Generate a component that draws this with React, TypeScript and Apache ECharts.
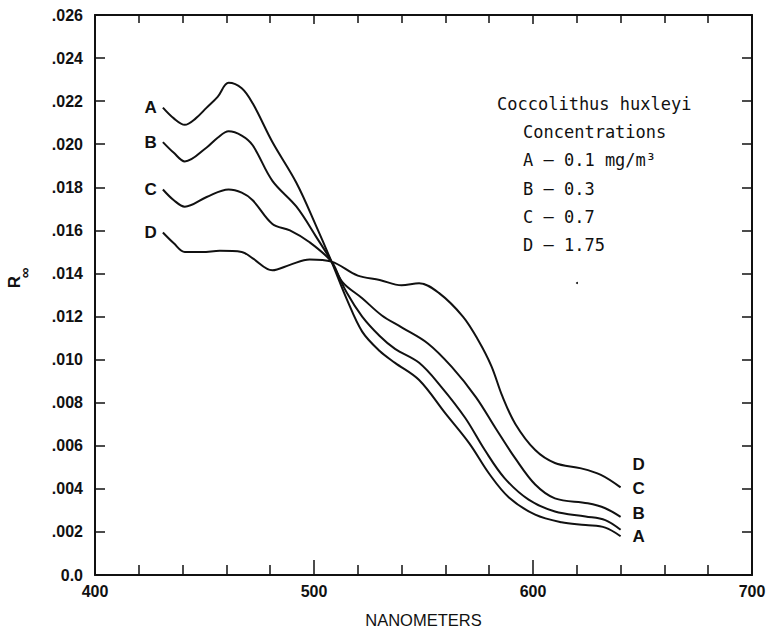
import React, { useEffect, useRef } from "react";
import * as echarts from "echarts";

// Wavelength (nm) and reflectance R∞ for each curve
const nmA = [431, 436, 441, 446, 451, 456, 461, 467, 472, 481, 492, 501, 508, 515, 522, 530, 537, 548, 560, 571, 580, 589, 601, 613, 624, 633, 640];
const rA = [0.0217, 0.0212, 0.0209, 0.0212, 0.0217, 0.0222, 0.02285, 0.0226, 0.0219, 0.0201, 0.0182, 0.0162, 0.01455, 0.0128, 0.0113, 0.0104, 0.00985, 0.00905, 0.0075, 0.0061, 0.0047, 0.0036, 0.0028, 0.00245, 0.00232, 0.0022, 0.0018];

const nmB = [431, 436, 441, 451, 456, 461, 467, 472, 481, 492, 501, 508, 515, 522, 530, 537, 548, 558, 569, 578, 587, 598, 610, 624, 633, 640];
const rB = [0.0201, 0.0196, 0.0192, 0.01985, 0.0203, 0.0206, 0.0204, 0.01995, 0.0183, 0.0171, 0.0157, 0.01455, 0.0131, 0.012, 0.0111, 0.0105, 0.00985, 0.00875, 0.0073, 0.0058, 0.0045, 0.0035, 0.00295, 0.00272, 0.00255, 0.0021];

const nmC = [431, 436, 441, 451, 461, 467, 472, 481, 489, 498, 508, 513, 522, 531, 540, 552, 563, 574, 583, 592, 601, 610, 625, 633, 640];
const rC = [0.0179, 0.0174, 0.0171, 0.01755, 0.0179, 0.01775, 0.0174, 0.0163, 0.016, 0.01545, 0.01455, 0.0136, 0.01285, 0.01205, 0.0115, 0.01075, 0.00965, 0.00825, 0.0068, 0.0054, 0.0042, 0.00356, 0.00333, 0.0031, 0.0027];

const nmD = [431, 436, 441, 449, 457, 467, 472, 481, 489, 498, 508, 520, 530, 540, 548, 557, 568, 575, 581, 586, 592, 601, 610, 622, 631, 640];
const rD = [0.0159, 0.0154, 0.015, 0.015, 0.01505, 0.015, 0.0147, 0.01415, 0.0144, 0.01465, 0.01455, 0.0139, 0.0137, 0.01345, 0.01355, 0.0131, 0.012, 0.0109, 0.0097, 0.0083, 0.007, 0.0058, 0.0052, 0.00495, 0.00465, 0.00407];

const curveNames = ["A", "B", "C", "D"];
const legendLines = [
  "Coccolithus huxleyi",
  "Concentrations",
  "A \u2013 0.1 mg/m\u00B3",
  "B \u2013 0.3",
  "C \u2013 0.7",
  "D \u2013 1.75",
];

const xTicks = { min: 400, max: 700, interval: 100 };
const yTicks = { min: 0, max: 0.026, interval: 0.002 };

const BOLD = "'Liberation Sans', Arial, sans-serif";
const MONO = "'DejaVu Sans Mono', 'Liberation Mono', monospace";
const INK = "#111";

// label offsets (px) for the right-hand letters
const endOffsets: Record<string, [number, number]> = {
  A: [4, 0],
  B: [4, -16],
  C: [4, -28],
  D: [4, -23],
};

export default function App() {
  const ref = useRef<HTMLDivElement>(null);
  useEffect(() => {
    if (!ref.current) return;
    const chart = echarts.init(ref.current, undefined, { renderer: "svg" });
    const sets = [
      [nmA, rA],
      [nmB, rB],
      [nmC, rC],
      [nmD, rD],
    ];
    const labelStyle = { fontFamily: BOLD, fontWeight: "bold", fontSize: 17, color: INK };
    const series = sets.map(([xs, ys], i) => {
      const name = curveNames[i];
      const data: any[] = xs.map((x, j) => [x, ys[j]]);
      data[0] = {
        value: data[0],
        label: { show: true, position: "left", distance: 6, formatter: name, ...labelStyle },
      };
      return {
        type: "line",
        name,
        data,
        smooth: 0.35,
        symbol: "circle",
        symbolSize: 0,
        showSymbol: true,
        itemStyle: { color: INK },
        label: { show: false },
        lineStyle: { color: INK, width: 2 },
        endLabel: { show: true, formatter: name, offset: endOffsets[name], ...labelStyle },
        z: 3,
      };
    });

    const axisLine = { show: true, onZero: false, lineStyle: { color: INK, width: 2 } };
    const yFmt = (v: number) => (Math.abs(v) < 1e-9 ? "0.0" : v.toFixed(3).slice(1));

    chart.setOption({
      animation: false,
      backgroundColor: "#fff",
      grid: { left: 95, right: 18, top: 15, bottom: 59, containLabel: false },
      xAxis: [
        {
          type: "value",
          position: "bottom",
          ...xTicks,
          axisLine,
          axisTick: { show: true, inside: true, length: 15, lineStyle: { color: INK, width: 1.5 } },
          minorTick: { show: true, splitNumber: 5, length: 10, lineStyle: { color: INK, width: 1.5 } },
          splitLine: { show: false },
          axisLabel: { color: INK, fontFamily: BOLD, fontWeight: "bold", fontSize: 16, margin: 8 },
          name: "NANOMETERS",
          nameLocation: "middle",
          nameGap: 36,
          nameTextStyle: { color: INK, fontFamily: BOLD, fontSize: 16.5 },
        },
        {
          type: "value",
          position: "top",
          ...xTicks,
          axisLine,
          axisTick: { show: true, inside: true, length: 9, lineStyle: { color: INK, width: 1.5 } },
          minorTick: { show: true, splitNumber: 5, length: 8, lineStyle: { color: INK, width: 1.5 } },
          splitLine: { show: false },
          axisLabel: { show: false },
        },
      ],
      yAxis: [
        {
          type: "value",
          position: "left",
          ...yTicks,
          axisLine,
          axisTick: { show: true, inside: true, length: 10, lineStyle: { color: INK, width: 1.5 } },
          splitLine: { show: false },
          axisLabel: { color: INK, fontFamily: BOLD, fontWeight: "bold", fontSize: 16, margin: 12, formatter: yFmt },
        },
        {
          type: "value",
          position: "right",
          ...yTicks,
          axisLine,
          axisTick: { show: true, inside: true, length: 10, lineStyle: { color: INK, width: 1.5 } },
          splitLine: { show: false },
          axisLabel: { show: false },
        },
      ],
      series,
      graphic: [
        {
          type: "text",
          x: 14,
          y: 282,
          rotation: Math.PI / 2,
          style: { text: "R", fontFamily: BOLD, fontWeight: "bold", fontSize: 17, fill: INK, align: "center", verticalAlign: "middle" },
        },
        {
          type: "text",
          x: 24,
          y: 273,
          rotation: Math.PI / 2,
          style: { text: "\u221E", fontFamily: BOLD, fontWeight: "bold", fontSize: 15, fill: INK, align: "center", verticalAlign: "middle" },
        },
        ...legendLines.map((t, i) => ({
          type: "text",
          x: i === 0 ? 497 : 523,
          y: 104 + i * 28.2,
          style: { text: t, fontFamily: MONO, fontSize: 17, fill: INK, align: "left", verticalAlign: "middle" },
        })),
        { type: "circle", shape: { cx: 577, cy: 283, r: 1 }, style: { fill: INK } },
      ],
    });
    return () => chart.dispose();
  }, []);
  return <div ref={ref} style={{ position: "absolute", left: 0, top: 0, width: 770, height: 634 }} />;
}
